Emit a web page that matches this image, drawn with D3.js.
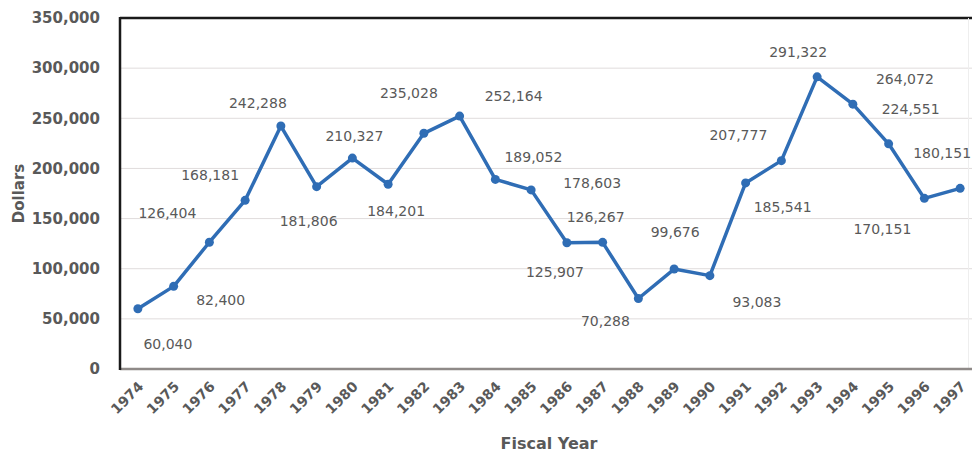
<!DOCTYPE html>
<html>
<head>
<meta charset="utf-8">
<script src="https://cdn.jsdelivr.net/npm/d3@7"></script>
<style>
  body { margin: 0; background: #fff; }
  text { font-family: "DejaVu Sans", sans-serif; fill: #595959; }
</style>
</head>
<body>
<div id="chart"></div>
<script>
// fiscal years and dollar amounts
const years = ['1974', '1975', '1976', '1977', '1978', '1979', '1980', '1981', '1982', '1983', '1984', '1985',
  '1986', '1987', '1988', '1989', '1990', '1991', '1992', '1993', '1994', '1995', '1996', '1997'];
const dollars = [60040, 82400, 126404, 168181, 242288, 181806, 210327, 184201, 235028, 252164, 189052, 178603,
  125907, 126267, 70288, 99676, 93083, 185541, 207777, 291322, 264072, 224551, 170151, 180151];
const yTicks = [0, 50000, 100000, 150000, 200000, 250000, 300000, 350000];

// where each data label sits relative to its point (as in the original)
const labelOffsets = [[30, 35], [47, 14], [-42, -29], [-35, -25], [-23, -23], [-8, 34], [2, -22], [8, 27],
  [-15, -40], [54, -20], [38, -22], [61, -7], [-12, 29], [-7, -25], [-33, 23], [1, -37], [47, 26],
  [37, 24], [-43, -26], [-19, -25], [52, -25], [22, -35], [-42, 31], [-18, -35]];

const width = 972;
const height = 454;
const margin = { top: 18, right: -6, bottom: 85, left: 120 };

const svg = d3.select('#chart')
  .append('svg')
  .attr('width', width)
  .attr('height', height);

const x = d3.scaleBand()
  .domain(years)
  .range([margin.left, width - margin.right]);

const y = d3.scaleLinear()
  .domain([0, 350000])
  .range([height - margin.bottom, margin.top]);

const cx = (d, i) => x(years[i]) + x.bandwidth() / 2;

// gridlines
svg.append('g')
  .selectAll('line')
  .data(yTicks.slice(1, -1))
  .join('line')
  .attr('x1', margin.left)
  .attr('x2', width)
  .attr('y1', d => y(d))
  .attr('y2', d => y(d))
  .attr('stroke', '#e0dcdc')
  .attr('stroke-width', 1);

// frame: top and right faint border
svg.append('line')
  .attr('x1', margin.left).attr('x2', width)
  .attr('y1', y(350000)).attr('y2', y(350000))
  .attr('stroke', '#1a1a1a').attr('stroke-width', 2.5);
svg.append('line')
  .attr('x1', 968.5).attr('x2', 968.5)
  .attr('y1', y(350000)).attr('y2', y(0))
  .attr('stroke', '#eeeeee').attr('stroke-width', 1);

// y axis
const yAxis = d3.axisLeft(y)
  .tickValues(yTicks)
  .tickSize(0)
  .tickPadding(20)
  .tickFormat(d3.format(','));

svg.append('g')
  .attr('transform', `translate(${margin.left},0)`)
  .call(yAxis)
  .call(g => g.select('.domain').remove())
  .selectAll('text')
  .style('font-size', '15px')
  .style('font-weight', 'bold')
  .attr('fill', '#595959');

// x axis
const xAxis = d3.axisBottom(x).tickSize(0);
svg.append('g')
  .attr('transform', `translate(0,${y(0)})`)
  .call(xAxis)
  .call(g => g.select('.domain').remove())
  .selectAll('text')
  .attr('fill', '#595959')
  .style('font-size', '14px')
  .style('font-weight', 'bold')
  .attr('text-anchor', 'end')
  .attr('transform', 'translate(3,15) rotate(-45)')
  .attr('dy', '0.35em')
  .attr('y', 0)
  .attr('x', 0);

// axis lines
svg.append('line')
  .attr('x1', margin.left).attr('x2', width)
  .attr('y1', y(0)).attr('y2', y(0))
  .attr('stroke', '#8f8a88').attr('stroke-width', 2.5);
svg.append('line')
  .attr('x1', margin.left).attr('x2', margin.left)
  .attr('y1', y(350000) - 1).attr('y2', y(0) + 1)
  .attr('stroke', '#1a1a1a').attr('stroke-width', 2.5);

// line
const line = d3.line()
  .x(cx)
  .y(d => y(d));

svg.append('path')
  .datum(dollars)
  .attr('d', line)
  .attr('fill', 'none')
  .attr('stroke', '#2f6db5')
  .attr('stroke-width', 3.5)
  .attr('stroke-linejoin', 'round');

svg.append('g')
  .selectAll('circle')
  .data(dollars)
  .join('circle')
  .attr('cx', cx)
  .attr('cy', d => y(d))
  .attr('r', 4.5)
  .attr('fill', '#2f6db5');

// data labels
svg.append('g')
  .selectAll('text')
  .data(dollars)
  .join('text')
  .attr('x', (d, i) => cx(d, i) + labelOffsets[i][0])
  .attr('y', (d, i) => y(d) + labelOffsets[i][1])
  .attr('text-anchor', 'middle')
  .attr('dy', '0.35em')
  .style('font-size', '14px')
  .text(d => d3.format(',')(d));

// axis titles
svg.append('text')
  .attr('transform', `translate(24,${(y(0) + y(350000)) / 2}) rotate(-90)`)
  .attr('text-anchor', 'middle')
  .style('font-size', '15px')
  .style('font-weight', 'bold')
  .text('Dollars');

svg.append('text')
  .attr('x', (margin.left + width - margin.right) / 2)
  .attr('y', 449)
  .attr('text-anchor', 'middle')
  .style('font-size', '16px')
  .style('font-weight', 'bold')
  .text('Fiscal Year');
</script>
</body>
</html>
